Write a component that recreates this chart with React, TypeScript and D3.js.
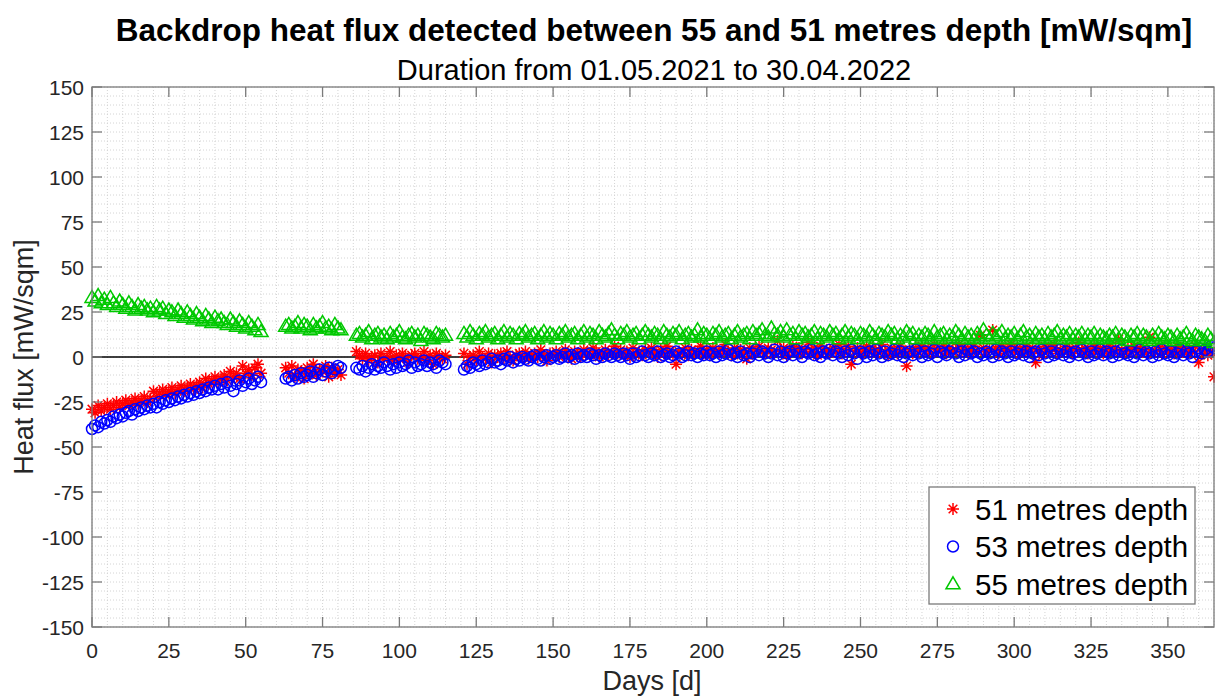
import React from "react";
import * as d3 from "d3";

// ---------- DATA ----------
const X_TICKS = [0, 25, 50, 75, 100, 125, 150, 175, 200, 225, 250, 275, 300, 325, 350];
const Y_TICKS = [150, 125, 100, 75, 50, 25, 0, -25, -50, -75, -100, -125, -150];

// segments: first day of the segment, then one value per day
const SEG_STARTS = [0, 63, 86, 121];

const D51_S1 = [-29,-31,-27,-30,-28,-26,-29,-27,-25,-28,-26,-24,-27,-25,-23,-26,-24,-22,-25,-23,-19,-22,-20,-18,-21,-19,-17,-20,-18,-16,-19,-17,-15,-18,-16,-14,-17,-12,-15,-13,-11,-14,-12,-10,-13,-8,-11,-9,-12,-5,-9,-7,-10,-6,-4,-9];
const D51_S2 = [-6,-9,-5,-11,-7,-8,-12,-6,-9,-4,-10,-7,-8,-5,-11,-6,-9,-7,-10];
const D51_S3 = [3,1,-1,2,-2,0,1,-3,2,-1,0,3,-2,1,-1,2,0,-3,1,2,-1,0,3,-2,1,-4,2,0,-1,1];
const D51_S4 = [
  2,-4,0,1,-2,3,0,-1,2,-3, 1,0,2,-1,3,0,-2,1,2,0, 3,-1,1,2,0,4,1,-2,2,1, 3,0,2,4,1,-1,3,2,0,4,
  2,1,5,3,0,2,4,1,3,6, 2,4,1,3,0,5,2,3,1,4, 3,5,2,0,4,2,6,3,1,-4, 3,2,5,1,4,2,3,6,2,4,
  1,5,3,2,4,7,3,1,5,2, 4,3,-1,5,2,4,6,3,2,5, 4,2,9,3,5,1,4,6,3,5, 2,4,8,3,5,1,6,3,4,2,
  5,3,7,2,4,6,-4,3,5,2, 4,6,3,5,2,4,7,3,1,5, 4,2,6,3,-5,4,2,5,3,6, 3,5,2,7,4,3,6,2,5,3,
  4,7,3,5,2,4,6,3,12,5, 3,4,15,5,2,6,3,4,7,3, 5,2,4,6,3,5,-3,4,2,6, 3,5,7,2,4,3,6,4,2,5,
  8,3,5,2,4,6,3,5,2,4, 6,3,5,10,4,2,5,3,6,4, 3,5,2,11,4,3,6,2,5,3, 4,2,6,3,5,2,4,3,6,-3,
  2,4,1,3,-11];

const D53_S1 = [-40,-38,-39,-36,-37,-35,-36,-33,-34,-32,-33,-31,-30,-32,-29,-30,-28,-29,-27,-28,-26,-28,-25,-26,-24,-25,-23,-24,-22,-23,-21,-22,-20,-21,-19,-20,-18,-19,-17,-18,-16,-18,-15,-17,-14,-16,-19,-15,-13,-16,-14,-12,-15,-13,-11,-14];
const D53_S2 = [-12,-11,-13,-10,-12,-9,-11,-10,-8,-11,-9,-7,-10,-8,-6,-9,-7,-5,-6];
const D53_S3 = [-6,-7,-5,-8,-6,-4,-7,-5,-6,-3,-5,-7,-4,-6,-3,-5,-4,-2,-6,-3,-5,-4,-2,-5,-3,-4,-6,-2,-3,-4];
const D53_S4 = [
  -7,-5,-6,-3,-4,-5,-2,-4,-3,-1, -3,-2,-4,-1,-2,0,-3,-1,-2,0, -1,-2,0,1,-1,-2,0,1,-1,0, 1,-1,0,2,0,1,-1,2,0,1,
  0,2,1,-1,1,0,2,1,0,2, 1,0,2,1,-1,2,0,1,3,1, 0,2,1,3,0,1,2,0,1,3, 2,0,1,3,1,2,0,2,1,3,
  1,2,0,3,1,2,4,1,2,0, 3,1,2,0,2,4,1,3,2,0, 2,4,1,3,0,2,3,1,4,2, 0,3,2,4,1,2,0,3,2,4,
  1,3,2,0,3,1,4,2,-1,3, 2,0,3,1,4,2,0,3,1,2, 4,1,3,0,2,3,1,4,2,0, 3,1,2,4,0,3,2,1,3,5,
  2,0,3,1,4,2,3,0,2,1, 3,2,0,4,1,3,2,0,3,1, 2,4,1,3,0,2,3,1,4,2, 0,3,1,2,4,1,3,0,2,3,
  1,4,2,0,3,1,2,4,1,3, 2,0,3,1,4,2,1,3,0,2, 4,1,3,2,0,3,1,4,2,1, 3,0,2,4,1,3,2,0,3,5,
  2,4,3,6,5];

const D55_S1 = [33,31,34,30,32,29,33,30,28,31,29,27,30,28,26,29,27,28,26,27,25,28,26,27,24,26,25,23,26,24,22,25,23,21,24,22,20,23,21,19,22,20,21,19,18,21,19,17,20,18,16,19,17,15,18,14];
const D55_S2 = [17,18,16,17,19,16,18,17,15,18,16,17,19,16,17,15,18,16,15];
const D55_S3 = [12,13,11,12,14,10,12,13,11,12,10,13,11,12,14,11,10,12,13,11,12,9,13,12,11,10,13,12,11,12];
const D55_S4 = [
  13,11,14,12,10,13,12,14,11,12, 13,10,12,14,11,13,12,10,13,12, 14,11,12,13,10,12,14,11,13,12, 10,13,12,14,11,12,13,10,12,14,
  11,13,12,10,14,12,11,13,15,12, 10,13,12,14,11,12,13,10,12,14, 12,11,13,12,10,14,12,11,13,12, 14,10,12,13,11,12,15,11,13,12,
  10,13,12,14,11,12,13,10,12,14, 11,12,13,10,14,12,13,15,12,11, 16,13,12,14,11,15,12,13,10,14, 12,13,11,12,14,10,13,12,11,14,
  12,13,10,12,14,11,13,12,10,13, 12,11,14,12,10,13,12,11,14,12, 13,10,12,11,14,12,13,10,12,11, 13,12,10,14,11,12,13,10,12,11,
  14,12,10,13,11,12,10,13,11,15, 12,10,13,11,12,14,10,12,11,13, 10,12,14,11,12,10,13,11,12,10, 13,11,12,14,10,12,11,13,10,12,
  11,13,10,12,11,13,10,12,11,10, 12,11,13,10,12,11,9,12,11,13, 10,12,11,9,12,10,13,11,10,12, 11,9,12,10,11,13,10,9,12,11,
  10,9,12,10,8];

const SERIES_NAMES = ["51 metres depth", "53 metres depth", "55 metres depth"];

// ---------- LAYOUT ----------
const W = 1215, H = 697;
const L = 92, R = 1214, T = 87, B = 627;
const FONT = "'Liberation Sans', Arial, Helvetica, sans-serif";

function toPoints(segs: number[][]) {
  const pts: { x: number; y: number }[] = [];
  segs.forEach((vals, si) => vals.forEach((v, i) => pts.push({ x: SEG_STARTS[si] + i, y: v })));
  return pts;
}

const SERIES = [
  { name: SERIES_NAMES[0], color: "#ff0000", marker: "star", pts: toPoints([D51_S1, D51_S2, D51_S3, D51_S4]) },
  { name: SERIES_NAMES[1], color: "#0000ff", marker: "circle", pts: toPoints([D53_S1, D53_S2, D53_S3, D53_S4]) },
  { name: SERIES_NAMES[2], color: "#00c800", marker: "tri", pts: toPoints([D55_S1, D55_S2, D55_S3, D55_S4]) },
];

function Marker({ type, x, y, color }: { type: string; x: number; y: number; color: string }) {
  const sw = 1.5;
  if (type === "circle") return <circle cx={x} cy={y} r={5.5} fill="none" stroke={color} strokeWidth={sw} />;
  if (type === "tri") {
    const w = 7, h = 12;
    return <path d={`M${x},${y - h * 0.6}L${x + w},${y + h * 0.4}L${x - w},${y + h * 0.4}Z`} fill="none" stroke={color} strokeWidth={sw} />;
  }
  const r = 6, d = r * 0.72;
  return (
    <path
      d={`M${x},${y - r}L${x},${y + r}M${x - r},${y}L${x + r},${y}M${x - d},${y - d}L${x + d},${y + d}M${x - d},${y + d}L${x + d},${y - d}`}
      stroke={color}
      strokeWidth={sw}
      fill="none"
    />
  );
}

export default function App() {
  const x = d3.scaleLinear().domain([0, 365]).range([L, R]);
  const y = d3.scaleLinear().domain([-150, 150]).range([B, T]);
  const minorX = d3.range(0, 366, 5);
  const minorY = d3.range(-150, 151, 5);

  return (
    <svg width={W} height={H} style={{ position: "absolute", left: 0, top: 0, background: "#fff" }} fontFamily={FONT}>
      <rect x={0} y={0} width={W} height={H} fill="#fff" />
      <rect x={L} y={T} width={R - L} height={B - T} fill="#fff" />
      {/* minor grid */}
      {minorX.map((v) => (
        <line key={"mx" + v} x1={x(v)} x2={x(v)} y1={T} y2={B} stroke="#d4d4d4" strokeWidth={1} strokeDasharray="1,2" />
      ))}
      {minorY.map((v) => (
        <line key={"my" + v} y1={y(v)} y2={y(v)} x1={L} x2={R} stroke="#d4d4d4" strokeWidth={1} strokeDasharray="1,2" />
      ))}
      {/* zero line */}
      <line x1={L} x2={R} y1={y(0)} y2={y(0)} stroke="#000" strokeWidth={1.5} />

      {/* data */}
      {SERIES.map((s) => (
        <g key={s.name}>
          {s.pts.map((p, i) => (
            <Marker key={i} type={s.marker} x={x(p.x)} y={y(p.y)} color={s.color} />
          ))}
        </g>
      ))}

      {/* box and ticks */}
      <rect x={L} y={T} width={R - L} height={B - T} fill="none" stroke="#7a7a7a" strokeWidth={1.3} />
      {X_TICKS.map((v) => (
        <g key={"xt" + v}>
          <line x1={x(v)} x2={x(v)} y1={B} y2={B - 10} stroke="#7a7a7a" strokeWidth={1.3} />
          <line x1={x(v)} x2={x(v)} y1={T} y2={T + 10} stroke="#7a7a7a" strokeWidth={1.3} />
          <text x={x(v)} y={658} textAnchor="middle" fontSize={21} fill="#262626">{v}</text>
        </g>
      ))}
      {Y_TICKS.map((v) => (
        <g key={"yt" + v}>
          <line x1={L} x2={L + 10} y1={y(v)} y2={y(v)} stroke="#7a7a7a" strokeWidth={1.3} />
          <line x1={R} x2={R - 10} y1={y(v)} y2={y(v)} stroke="#7a7a7a" strokeWidth={1.3} />
          <text x={84} y={y(v) + 7.5} textAnchor="end" fontSize={21} fill="#262626">{v}</text>
        </g>
      ))}

      {/* titles */}
      <text x={654} y={41} textAnchor="middle" fontSize={31.5} fontWeight="bold" fill="#000">
        Backdrop heat flux detected between 55 and 51 metres depth [mW/sqm]
      </text>
      <text x={654} y={80} textAnchor="middle" fontSize={29} fill="#000">
        Duration from 01.05.2021 to 30.04.2022
      </text>
      <text x={652} y={690} textAnchor="middle" fontSize={27} fill="#262626">Days [d]</text>
      <text transform={`translate(33,${(T + B) / 2}) rotate(-90)`} textAnchor="middle" fontSize={27} fill="#262626">
        Heat flux [mW/sqm]
      </text>

      {/* legend */}
      <g>
        <rect x={929} y={487} width={266} height={117} fill="#fff" stroke="#7a7a7a" strokeWidth={1.3} />
        {SERIES.map((s, i) => (
          <g key={"lg" + i}>
            <Marker type={s.marker} x={953} y={509 + i * 37.5} color={s.color} />
            <text x={975} y={509 + i * 37.5 + 10.5} fontSize={29.5} fill="#000">{s.name}</text>
          </g>
        ))}
      </g>
    </svg>
  );
}
